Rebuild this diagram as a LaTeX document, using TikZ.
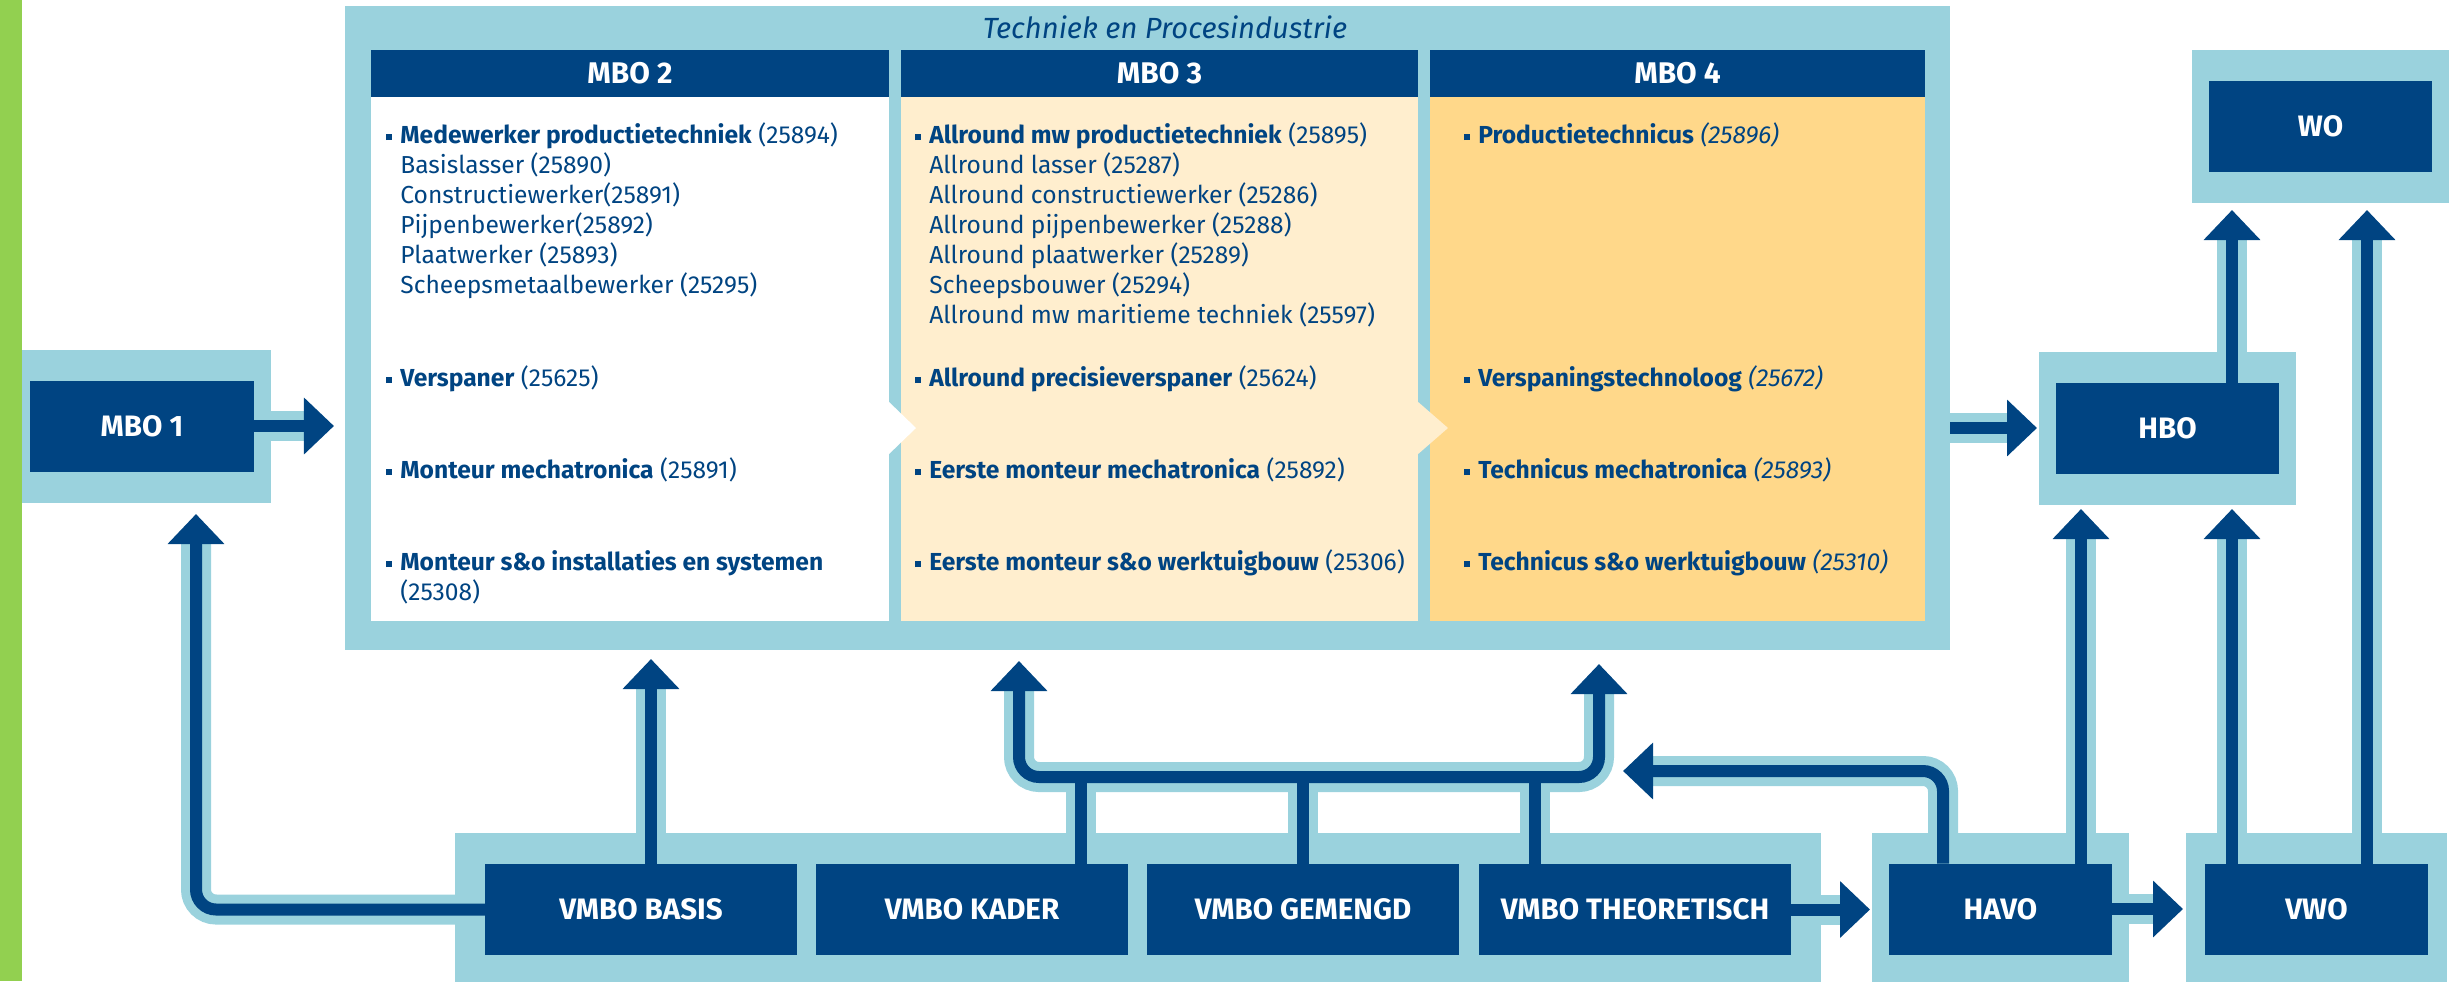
\documentclass[tikz,border=0pt]{standalone}
\usepackage{fontspec}
\setmainfont{Fira Sans}
\usetikzlibrary{arrows.meta,positioning,fit}

\definecolor{navy}{RGB}{0,68,130}
\definecolor{sky}{RGB}{154,210,221}
\definecolor{cream}{RGB}{255,238,206}
\definecolor{apricot}{RGB}{255,216,138}
\definecolor{lime}{RGB}{146,208,80}

\pgfdeclarelayer{background}
\pgfsetlayers{background,main}

\newcommand{\itm}{\rule[0.6mm]{1.2mm}{1.2mm}\hspace*{1.6mm}}
\newcommand{\nob}{\hspace*{2.8mm}}
% connector: light halo underneath, dark line with head on top
\newcommand{\conn}[2][0mm]{%
  \begin{pgfonlayer}{background}\draw[halo,shorten >=#1+6mm] #2;\end{pgfonlayer}
  \draw[flow,shorten >=#1] #2;}

\begin{document}
\begin{tikzpicture}[x=0.2mm,y=-0.2mm,
    stage/.style={fill=navy,text=white,font=\fontsize{16.8}{19}\selectfont\bfseries,minimum height=18.2mm,inner sep=0pt,outer sep=0pt},
    colhead/.style={fill=navy,text=white,font=\fontsize{17}{19}\selectfont\bfseries,minimum height=9.4mm,inner sep=0pt,outer sep=0pt},
    panel/.style={minimum height=104.8mm,inner sep=0pt,outer sep=0pt},
    pad/.style={fill=sky,inner sep=0pt,outer sep=0pt},
    entry/.style={anchor=base west,text=navy,inner sep=0pt,font=\fontsize{14}{17}\selectfont},
    halo/.style={draw=sky,line width=6mm,rounded corners=4mm},
    flow/.style={draw=navy,line width=2.4mm,rounded corners=4mm,-{Triangle[length=6mm,width=11mm]}}]
\path[use as bounding box,clip] (0,0) rectangle (2458,981);
\fill[lime] (0,0) rectangle (22,981);

% levels
\node[stage,minimum width=44.8mm] (mboone) at (142,426) {MBO 1};
\node[stage,minimum width=44.6mm] (hbo) at (2167.5,428) {HBO};
\node[stage,minimum width=44.6mm] (wo) at (2320.5,126) {WO};
\node[stage,minimum width=62.4mm] (basis) at (641,909.5) {VMBO BASIS};
\node[stage,minimum width=62.4mm,right=3.8mm of basis] (kader) {VMBO KADER};
\node[stage,minimum width=62.4mm,right=3.8mm of kader] (gemengd) {VMBO GEMENGD};
\node[stage,minimum width=62.4mm,right=4mm of gemengd] (theor) {VMBO THEORETISCH};
\node[stage,minimum width=44.6mm] (havo) at (2000.5,909) {HAVO};
\node[stage,minimum width=44.6mm,right=18.6mm of havo] (vwo) {VWO};

\begin{pgfonlayer}{background}
  \node[pad,minimum width=321mm,minimum height=128.8mm] (sector) at (1147.5,328) {};
  \node[pad,fit=(mboone),inner xsep=3.4mm,inner ysep=6.2mm] (mbooneframe) {};
  \node[pad,fit=(hbo),inner xsep=3.4mm,inner ysep=6.2mm] (hboframe) {};
  \node[pad,fit=(wo),inner xsep=3.4mm,inner ysep=6.2mm] (woframe) {};
  \node[pad,fit=(basis)(theor),inner xsep=6mm,inner ysep=6.2mm] (vmboframe) {};
  \node[pad,fit=(havo),inner xsep=3.4mm,inner ysep=6.2mm] (havoframe) {};
  \node[pad,fit=(vwo),inner xsep=3.8mm,inner ysep=6.2mm] (vwoframe) {};
\end{pgfonlayer}

% MBO columns
\node[anchor=base,text=navy,font=\fontsize{16.6}{19}\selectfont\itshape] (title) at (1165,38) {Techniek en Procesindustrie};
\node[colhead,minimum width=103.6mm] (hdtwo) at (630,73.5) {MBO 2};
\node[colhead,minimum width=103.4mm,right=2.4mm of hdtwo] (hdthree) {MBO 3};
\node[colhead,minimum width=99mm,right=2.4mm of hdthree] (hdfour) {MBO 4};
\node[panel,fill=white,minimum width=103.6mm,below=0pt of hdtwo] (pntwo) {};
\node[panel,fill=cream,minimum width=103.4mm,below=0pt of hdthree] (pnthree) {};
\node[panel,fill=apricot,minimum width=99mm,below=0pt of hdfour] (pnfour) {};
\fill[white] (888,401) -- (916,428) -- (888,455) -- cycle;
\fill[cream] (1417,401) -- (1448,428) -- (1417,455) -- cycle;

\foreach \y/\t [count=\i] in {
    143/{\itm\textbf{Medewerker productietechniek} (25894)},
    173/{\nob Basislasser (25890)},
    203/{\nob Constructiewerker(25891)},
    233/{\nob Pijpenbewerker(25892)},
    263/{\nob Plaatwerker (25893)},
    293/{\nob Scheepsmetaalbewerker (25295)},
    386/{\itm\textbf{Verspaner} (25625)},
    478/{\itm\textbf{Monteur mechatronica} (25891)},
    570/{\itm\textbf{Monteur s\&o installaties en systemen}},
    600/{\nob(25308)}}
  \node[entry] (two\i) at (386,\y) {\t};
\foreach \y/\t [count=\i] in {
    143/{\itm\textbf{Allround mw productietechniek} (25895)},
    173/{\nob Allround lasser (25287)},
    203/{\nob Allround constructiewerker (25286)},
    233/{\nob Allround pijpenbewerker (25288)},
    263/{\nob Allround plaatwerker (25289)},
    293/{\nob Scheepsbouwer (25294)},
    323/{\nob Allround mw maritieme techniek (25597)},
    386/{\itm\textbf{Allround precisieverspaner} (25624)},
    478/{\itm\textbf{Eerste monteur mechatronica} (25892)},
    570/{\itm\textbf{Eerste monteur s\&o werktuigbouw} (25306)}}
  \node[entry] (three\i) at (915,\y) {\t};
\foreach \y/\t [count=\i] in {
    143/{\itm\textbf{Productietechnicus} \textit{(25896)}},
    386/{\itm\textbf{Verspaningstechnoloog} \textit{(25672)}},
    478/{\itm\textbf{Technicus mechatronica} \textit{(25893)}},
    570/{\itm\textbf{Technicus s\&o werktuigbouw} \textit{(25310)}}}
  \node[entry] (four\i) at (1464,\y) {\t};

% connectors
\coordinate (inone) at (196,498);
\coordinate (intwo) at (651,650);
\coordinate (inthree) at (1019,650);
\coordinate (infour) at (1599,650);
\coordinate (dropk) at (1081,777);
\coordinate (dropg) at (1303,777);
\coordinate (dropt) at (1535,777);
\coordinate (turn) at (1943,771);
\coordinate (backfour) at (1623,771);
\coordinate (hboleft) at (2081,502);
\coordinate (hboright) at (2232,502);
\coordinate (woleft) at (2232,201);
\coordinate (woright) at (2367,201);

\conn[2.2mm]{(mboone.east) -- (mboone.east -| sector.west)}
\conn[0.4mm]{(hbo -| sector.east) -- (hbo -| hboframe.west)}
\conn[3.2mm]{(basis.west) -| (inone)}
\conn[1.8mm]{(basis.north -| intwo) -- (intwo)}
\conn[2.2mm]{(dropg) -| (inthree)}
\conn[2.8mm]{(dropg) -| (infour)}
\begin{pgfonlayer}{background}
  \foreach \d/\b in {dropk/kader,dropg/gemengd,dropt/theor}
    \draw[halo] (\b.north -| \d) -- (\d);
\end{pgfonlayer}
\foreach \d/\b in {dropk/kader,dropg/gemengd,dropt/theor}
  \draw[flow,-] (\b.north -| \d) -- (\d);
\conn{(havo.north -| turn) |- (backfour)}
\conn[0.4mm]{(theor.east) -- (theor.east -| havoframe.west)}
\conn[0.6mm]{(havo.east) -- (havo.east -| vwoframe.west)}
\conn[1.4mm]{(havo.north -| hboleft) -- (hboleft)}
\conn[1.4mm]{(vwo.north -| hboright) -- (hboright)}
\conn[1.8mm]{(hbo.north -| woleft) -- (woleft)}
\conn[1.8mm]{(vwo.north -| woright) -- (woright)}
\end{tikzpicture}
\end{document}
